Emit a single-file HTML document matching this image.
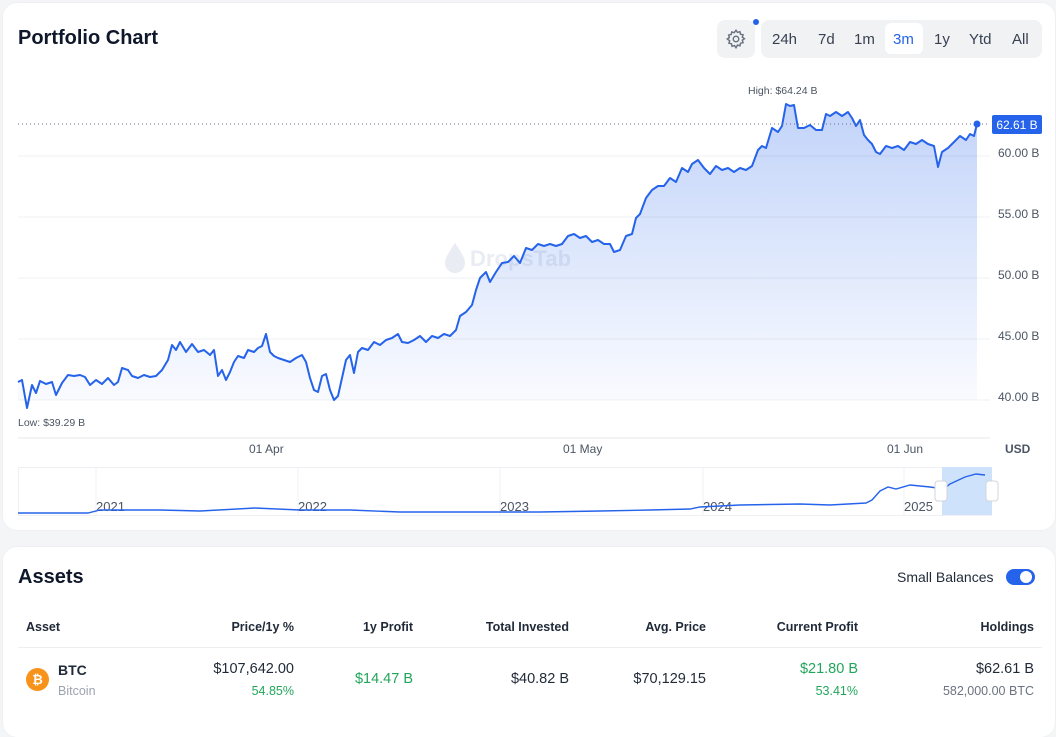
<!DOCTYPE html>
<html><head><meta charset="utf-8"><style>
*{margin:0;padding:0;box-sizing:border-box}
body{width:1056px;height:724px;background:#f4f5f7;font-family:"Liberation Sans",sans-serif;position:relative;overflow:hidden;color:#111827}
.card{position:absolute;background:#fff;border-radius:14px;box-shadow:0 0 2px rgba(0,0,0,0.06)}
.a{position:absolute;white-space:nowrap}
.r{text-align:right}
</style></head><body>
<div class="card" style="left:3px;top:3px;width:1052px;height:527px"></div>
<div class="card" style="left:3px;top:547px;width:1052px;height:190px"></div>
<div class="a" style="left:18px;top:27px;font-size:20px;font-weight:bold;color:#0f172a">Portfolio Chart</div>
<div class="a" style="left:717px;top:20px;width:38px;height:38px;background:#f1f2f4;border-radius:8px"></div>
<svg class="a" style="left:725px;top:28px" width="22" height="22" viewBox="0 0 24 24" fill="none" stroke="#6b7280" stroke-width="1.6"><circle cx="12" cy="12" r="3"/><path d="M12 2.5l1.6 2.3 2.7-.8.6 2.8 2.8.6-.8 2.7 2.3 1.6-2.3 1.6.8 2.7-2.8.6-.6 2.8-2.7-.8L12 21.5l-1.6-2.3-2.7.8-.6-2.8-2.8-.6.8-2.7L2.5 12l2.3-1.6-.8-2.7 2.8-.6.6-2.8 2.7.8z"/></svg>
<div class="a" style="left:753px;top:19px;width:6px;height:6px;border-radius:3px;background:#2563eb"></div>
<div class="a" style="left:761px;top:20px;width:281px;height:38px;background:#f1f2f4;border-radius:8px"></div>
<div class="a" style="left:885px;top:23px;width:38px;height:31px;background:#fff;border-radius:6px"></div>
<div class="a" style="left:772px;top:31px;font-size:15px;color:#374151">24h</div>
<div class="a" style="left:818px;top:31px;font-size:15px;color:#374151">7d</div>
<div class="a" style="left:854px;top:31px;font-size:15px;color:#374151">1m</div>
<div class="a" style="left:893px;top:31px;font-size:15px;color:#2563eb">3m</div>
<div class="a" style="left:934px;top:31px;font-size:15px;color:#374151">1y</div>
<div class="a" style="left:969px;top:31px;font-size:15px;color:#374151">Ytd</div>
<div class="a" style="left:1012px;top:31px;font-size:15px;color:#374151">All</div>

<svg class="a" style="left:0;top:0" width="1056" height="530">
<defs><linearGradient id="g" x1="0" y1="0" x2="0" y2="1"><stop offset="0" stop-color="#2563eb" stop-opacity="0.28"/><stop offset="1" stop-color="#2563eb" stop-opacity="0.02"/></linearGradient></defs>
<g stroke="#eef0f3" stroke-width="1">
<line x1="18" y1="156" x2="990" y2="156"/><line x1="18" y1="217" x2="990" y2="217"/><line x1="18" y1="278" x2="990" y2="278"/><line x1="18" y1="339" x2="990" y2="339"/><line x1="18" y1="400" x2="990" y2="400"/>
<line x1="18" y1="438" x2="990" y2="438" stroke="#e5e7eb"/>
</g>
<path d="M455,243 C449,252 445,258 445,263 A10,10 0 0 0 465,263 C465,258 461,252 455,243 Z" fill="#e9ecf2"/>
<text x="470" y="266" font-size="22" font-weight="bold" fill="#e9ecf2" font-family="Liberation Sans">DropsTab</text>
<path fill="url(#g)" d="M18,382 L22,380 27,408 32,385 36,393 40,381 46,384 52,382 56,395 62,383 68,375 74,376 80,375 85,377 90,385 96,380 102,384 108,378 114,385 118,382 122,368 128,370 132,376 138,378 144,375 150,377 156,376 162,370 168,360 172,345 176,350 180,342 186,352 192,344 198,352 204,350 210,355 214,350 218,376 222,370 226,380 230,372 234,362 238,356 244,358 248,350 254,352 258,348 262,346 266,334 270,352 274,356 278,358 284,360 290,362 296,358 302,355 306,362 310,378 314,390 318,392 322,376 326,374 330,390 334,400 338,396 342,378 346,360 350,355 354,373 358,352 362,348 368,350 374,342 380,345 386,340 392,338 398,334 402,342 408,343 414,340 420,336 426,342 432,336 438,338 444,334 450,336 456,330 460,316 466,312 472,305 476,290 480,278 486,272 490,282 496,272 502,263 508,262 514,256 520,263 526,248 532,250 538,244 544,246 550,244 556,246 562,244 568,236 574,234 580,238 586,236 592,242 598,240 604,244 610,244 614,252 620,250 626,236 632,234 636,218 640,214 646,198 652,190 658,186 664,186 670,178 676,182 682,168 688,172 692,164 698,160 704,168 710,174 716,166 722,170 728,168 734,172 740,168 746,170 752,166 758,150 762,146 766,148 772,128 778,132 782,126 786,104 790,106 794,105 798,128 804,128 810,125 816,130 822,130 826,114 830,116 836,112 842,116 848,112 852,118 856,126 860,120 864,135 868,140 872,144 876,152 880,154 886,146 892,148 898,146 904,150 910,142 916,144 922,140 928,144 934,146 938,167 942,152 948,148 954,142 960,136 966,140 970,134 974,136 977,124 L977,400 L18,400 Z"/>
<polyline fill="none" stroke="#2563eb" stroke-width="2" stroke-linejoin="round" points="18,382 22,380 27,408 32,385 36,393 40,381 46,384 52,382 56,395 62,383 68,375 74,376 80,375 85,377 90,385 96,380 102,384 108,378 114,385 118,382 122,368 128,370 132,376 138,378 144,375 150,377 156,376 162,370 168,360 172,345 176,350 180,342 186,352 192,344 198,352 204,350 210,355 214,350 218,376 222,370 226,380 230,372 234,362 238,356 244,358 248,350 254,352 258,348 262,346 266,334 270,352 274,356 278,358 284,360 290,362 296,358 302,355 306,362 310,378 314,390 318,392 322,376 326,374 330,390 334,400 338,396 342,378 346,360 350,355 354,373 358,352 362,348 368,350 374,342 380,345 386,340 392,338 398,334 402,342 408,343 414,340 420,336 426,342 432,336 438,338 444,334 450,336 456,330 460,316 466,312 472,305 476,290 480,278 486,272 490,282 496,272 502,263 508,262 514,256 520,263 526,248 532,250 538,244 544,246 550,244 556,246 562,244 568,236 574,234 580,238 586,236 592,242 598,240 604,244 610,244 614,252 620,250 626,236 632,234 636,218 640,214 646,198 652,190 658,186 664,186 670,178 676,182 682,168 688,172 692,164 698,160 704,168 710,174 716,166 722,170 728,168 734,172 740,168 746,170 752,166 758,150 762,146 766,148 772,128 778,132 782,126 786,104 790,106 794,105 798,128 804,128 810,125 816,130 822,130 826,114 830,116 836,112 842,116 848,112 852,118 856,126 860,120 864,135 868,140 872,144 876,152 880,154 886,146 892,148 898,146 904,150 910,142 916,144 922,140 928,144 934,146 938,167 942,152 948,148 954,142 960,136 966,140 970,134 974,136 977,124"/>
<line x1="18" y1="124" x2="990" y2="124" stroke="#6b7280" stroke-width="1" stroke-dasharray="1,3"/>
<circle cx="977" cy="124" r="3.5" fill="#2563eb"/>
<rect x="992" y="115" width="50" height="19" rx="2" fill="#2563eb"/>
<text x="1017" y="129" font-size="12" fill="#fff" text-anchor="middle" font-family="Liberation Sans">62.61 B</text>
<g font-size="12" fill="#4b5563" font-family="Liberation Sans">
<text x="998" y="157">60.00 B</text><text x="998" y="218">55.00 B</text><text x="998" y="279">50.00 B</text><text x="998" y="340">45.00 B</text><text x="998" y="401">40.00 B</text>
<text x="249" y="453">01 Apr</text><text x="563" y="453">01 May</text><text x="887" y="453">01 Jun</text>
<text x="1005" y="453" font-weight="bold" fill="#4b5563">USD</text>
</g>
<g font-size="10.5" fill="#4b5563" font-family="Liberation Sans"><text x="748" y="94">High: $64.24 B</text><text x="18" y="426">Low: $39.29 B</text></g>
<rect x="18.5" y="467.5" width="973" height="48" fill="none" stroke="#eef0f3"/>
<g stroke="#eef0f3"><line x1="96" y1="467" x2="96" y2="515"/><line x1="298" y1="467" x2="298" y2="515"/><line x1="500" y1="467" x2="500" y2="515"/><line x1="703" y1="467" x2="703" y2="515"/><line x1="904" y1="467" x2="904" y2="515"/></g>
<rect x="942" y="467" width="50" height="48" fill="#cfe2fb"/>
<g font-size="13" fill="#4b5563" font-family="Liberation Sans"><text x="96" y="511">2021</text><text x="298" y="511">2022</text><text x="500" y="511">2023</text><text x="703" y="511">2024</text><text x="904" y="511">2025</text></g>
<polyline fill="none" stroke="#2563eb" stroke-width="1.4" points="18,513 88,513 100,510 160,510 200,511 255,508 300,510 350,510 400,512 450,512 500,512 540,512 600,511 650,510 690,509 700,507 740,505 800,504 830,505 866,503 872,500 880,491 888,487 896,489 910,485 930,487 937,488 945,488 950,484 965,477 976,474 985,475"/>
<rect x="935" y="481" width="12" height="20" rx="3" fill="#fff" stroke="#d1d5db"/>
<rect x="986" y="481" width="12" height="20" rx="3" fill="#fff" stroke="#d1d5db"/>
</svg>

<div class="a" style="left:18px;top:566px;font-size:20px;font-weight:bold;color:#0f172a">Assets</div>
<div class="a" style="left:897px;top:569px;font-size:14px;color:#1f2937">Small Balances</div>
<div class="a" style="left:1006px;top:569px;width:29px;height:16px;border-radius:8px;background:#2563eb"></div>
<div class="a" style="left:1020px;top:571px;width:12px;height:12px;border-radius:6px;background:#fff"></div>

<div class="a" style="left:26px;top:620px;font-size:12.5px;font-weight:bold;color:#1f2937">Asset</div>
<div class="a r" style="right:762px;top:620px;font-size:12.5px;font-weight:bold;color:#1f2937">Price/1y %</div>
<div class="a r" style="right:643px;top:620px;font-size:12.5px;font-weight:bold;color:#1f2937">1y Profit</div>
<div class="a r" style="right:487px;top:620px;font-size:12.5px;font-weight:bold;color:#1f2937">Total Invested</div>
<div class="a r" style="right:350px;top:620px;font-size:12.5px;font-weight:bold;color:#1f2937">Avg. Price</div>
<div class="a r" style="right:198px;top:620px;font-size:12.5px;font-weight:bold;color:#1f2937">Current Profit</div>
<div class="a r" style="right:22px;top:620px;font-size:12.5px;font-weight:bold;color:#1f2937">Holdings</div>
<div class="a" style="left:18px;top:647px;width:1024px;height:1px;background:#eceef1"></div>

<div class="a" style="left:26px;top:668px;width:23px;height:23px;border-radius:12px;background:#f7931a;color:#fff;font-size:13px;font-weight:bold;text-align:center;line-height:23px">₿</div>
<div class="a" style="left:58px;top:662px;font-size:14px;font-weight:bold;color:#1f2937">BTC</div>
<div class="a" style="left:58px;top:684px;font-size:12.5px;color:#9ca3af">Bitcoin</div>
<div class="a r" style="right:762px;top:661px;font-size:14.5px;color:#1f2937">$107,642.00</div>
<div class="a r" style="right:762px;top:684px;font-size:12.5px;color:#22a55a">54.85%</div>
<div class="a r" style="right:643px;top:671px;font-size:14.5px;color:#22a55a">$14.47 B</div>
<div class="a r" style="right:487px;top:671px;font-size:14.5px;color:#1f2937">$40.82 B</div>
<div class="a r" style="right:350px;top:671px;font-size:14.5px;color:#1f2937">$70,129.15</div>
<div class="a r" style="right:198px;top:661px;font-size:14.5px;color:#22a55a">$21.80 B</div>
<div class="a r" style="right:198px;top:684px;font-size:12.5px;color:#22a55a">53.41%</div>
<div class="a r" style="right:22px;top:661px;font-size:14.5px;color:#1f2937">$62.61 B</div>
<div class="a r" style="right:22px;top:684px;font-size:12.5px;color:#6b7280">582,000.00 BTC</div>
</body></html>
